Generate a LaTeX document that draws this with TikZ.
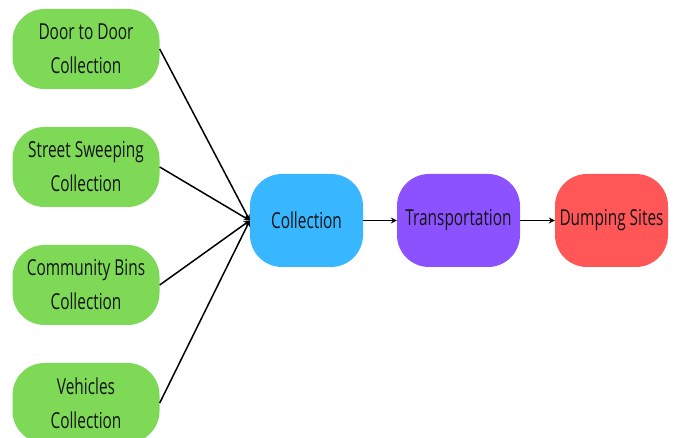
\documentclass[tikz,border=0pt]{standalone}
\usepackage{fontspec}
\setmainfont{Open Sans}[FakeStretch=0.7]
\usetikzlibrary{arrows.meta}
\definecolor{grn}{HTML}{7ED957}
\definecolor{blu}{HTML}{38B6FF}
\definecolor{pur}{HTML}{8C52FF}
\definecolor{rd}{HTML}{FF5757}
\definecolor{txt}{HTML}{141414}
\tikzset{
  box/.style={rounded corners=32pt, inner sep=0pt, align=center, text=txt,
    font=\fontsize{22}{34}\selectfont},
  src/.style={box, fill=grn, minimum width=147pt, minimum height=80pt},
  stage/.style={box, minimum height=93pt},
  link/.style={draw=black, line width=1.5pt, -{Stealth[length=6pt,width=6pt]}}
}
\begin{document}
\begin{tikzpicture}[x=1pt,y=-1pt]
\useasboundingbox (0,0) rectangle (678,438);
\fill[white] (0,0) rectangle (678,438);
\node[src] (d2d) at (86,49) {Door to Door\\Collection};
\node[src] (ssw) at (86,167) {Street Sweeping\\Collection};
\node[src] (cbn) at (86,285) {Community Bins\\Collection};
\node[src] (veh) at (86,403) {Vehicles\\Collection};
\node[stage, fill=blu, minimum width=113pt] (col) at (306.5,220.5) {Collection};
\node[stage, fill=pur, minimum width=123pt] (trn) at (458.5,220.5) {Transportation};
\node[stage, fill=rd, minimum width=113pt] (dmp) at (611.5,220.5) {Dumping Sites};
\foreach \s in {d2d,ssw,cbn,veh} \draw[link] (\s.east) -- (col.west);
\draw[link] (col) -- (trn);
\draw[link] (trn) -- (dmp);
\end{tikzpicture}
\end{document}
